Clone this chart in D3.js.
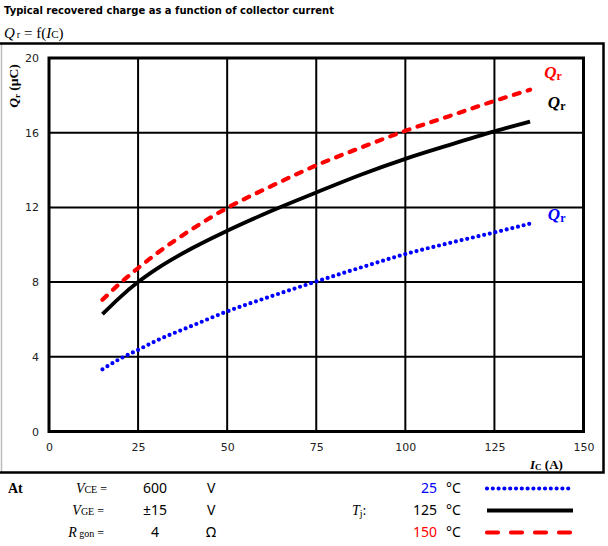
<!DOCTYPE html>
<html>
<head>
<meta charset="utf-8">
<script src="https://cdn.jsdelivr.net/npm/d3@7/dist/d3.min.js"></script>
<style>
  html, body { margin: 0; padding: 0; background: #fff; }
  svg { display: block; }
</style>
</head>
<body>
<svg id="chart" width="608" height="546"></svg>
<script>
// Collector current (A) at which the recovered charge is sampled
const currents = [15, 20, 25, 30, 40, 50, 62.5, 75, 87.5, 100, 112.5, 125, 135];
// Recovered charge Qr (µC) per junction temperature
const qr25 = [3.33, 3.9, 4.37, 4.85, 5.65, 6.43, 7.25, 8.03, 8.78, 9.5, 10.1, 10.66, 11.13];
const qr125 = [6.28, 7.2, 8.0, 8.68, 9.8, 10.75, 11.82, 12.8, 13.75, 14.6, 15.35, 16.07, 16.6];
const qr150 = [7.05, 7.95, 8.75, 9.5, 10.82, 11.97, 13.15, 14.25, 15.2, 16.1, 16.9, 17.7, 18.3];
// Axis ticks
const xTicks = [0, 25, 50, 75, 100, 125, 150];
const yTicks = [0, 4, 8, 12, 16, 20];

const svg = d3.select("#chart");
const sans = "DejaVu Sans, Verdana, sans-serif";
const serif = "Liberation Serif, Times New Roman, serif";

const x = d3.scaleLinear().domain([0, 150]).range([49, 583.5]);
const y = d3.scaleLinear().domain([0, 20]).range([431.5, 58]);

// Heading
svg.append("text").attr("x", 4).attr("y", 14)
  .attr("font-family", sans).attr("font-weight", "bold").attr("font-size", 9.6)
  .attr("textLength", 330).attr("lengthAdjust", "spacingAndGlyphs")
  .text("Typical recovered charge as a function of collector current");

const fn = svg.append("text").attr("x", 4).attr("y", 38)
  .attr("font-family", serif).attr("font-size", 15);
fn.append("tspan").attr("font-style", "italic").text("Q");
fn.append("tspan").attr("font-size", 10).attr("dx", 2).text("r");
fn.append("tspan").text(" = f(");
fn.append("tspan").attr("font-style", "italic").text("I");
fn.append("tspan").attr("font-size", 11).text("C");
fn.append("tspan").text(")");

// Outer frame
svg.append("line").attr("x1", 1.5).attr("x2", 1.5).attr("y1", 44).attr("y2", 472)
  .attr("stroke", "#bbb").attr("stroke-width", 1.5);
svg.append("path").attr("d", "M0,43.5H603.5V472.5H0")
  .attr("fill", "none").attr("stroke", "#000").attr("stroke-width", 2.5);

// Grid
const grid = svg.append("g").attr("stroke", "#000").attr("stroke-width", 2);
grid.selectAll(".gx").data(xTicks.slice(1, -1)).join("line")
  .attr("x1", d => x(d)).attr("x2", d => x(d)).attr("y1", y(20)).attr("y2", y(0));
grid.selectAll(".gy").data(yTicks.slice(1, -1)).join("line")
  .attr("y1", d => y(d)).attr("y2", d => y(d)).attr("x1", x(0)).attr("x2", x(150));
svg.append("rect").attr("x", x(0)).attr("y", y(20))
  .attr("width", x(150) - x(0)).attr("height", y(0) - y(20))
  .attr("fill", "none").attr("stroke", "#000").attr("stroke-width", 3);

// Axes labels via d3 axes (tick lines hidden)
const xAxis = svg.append("g").attr("transform", `translate(0,${y(0) + 8})`)
  .call(d3.axisBottom(x).tickValues(xTicks).tickSize(0).tickPadding(4));
const yAxis = svg.append("g").attr("transform", `translate(${x(0) - 8},0)`)
  .call(d3.axisLeft(y).tickValues(yTicks).tickSize(0).tickPadding(2));
[xAxis, yAxis].forEach(a => {
  a.select(".domain").remove();
  a.selectAll("text").attr("font-family", sans).attr("font-size", 11).attr("fill", "#222");
});

// Y title
const yt = svg.append("text").attr("transform", "translate(18,86) rotate(-90)")
  .attr("text-anchor", "middle").attr("font-family", serif)
  .attr("font-weight", "bold").attr("font-size", 13.5);
yt.append("tspan").attr("font-style", "italic").text("Q");
yt.append("tspan").attr("font-size", 9).attr("dy", 2).text("r");
yt.append("tspan").attr("dy", -2).text(" (µC)");

// X title
const xt = svg.append("text").attr("x", 530).attr("y", 469)
  .attr("font-family", serif).attr("font-weight", "bold").attr("font-size", 13);
xt.append("tspan").attr("font-style", "italic").text("I");
xt.append("tspan").attr("font-size", 9).attr("dy", 1).text("C");
xt.append("tspan").attr("dy", -1).text(" (A)");

// Curves
const line = d3.line().x(d => x(d[0])).y(d => y(d[1])).curve(d3.curveMonotoneX);
const series = [
  { values: qr25, color: "#0000ff", width: 4.2, dash: "0 5.8", legendDash: "0 5.8", cap: "round" },
  { values: qr125, color: "#000000", width: 3.8, dash: null, legendDash: null, cap: "butt" },
  { values: qr150, color: "#ff0000", width: 4.2, dash: "6 8.5", legendDash: "11 13", cap: "round" }
];
series.forEach(s => {
  svg.append("path")
    .datum(currents.map((c, i) => [c, s.values[i]]))
    .attr("d", line).attr("fill", "none")
    .attr("stroke", s.color).attr("stroke-width", s.width)
    .attr("stroke-linecap", s.cap)
    .attr("stroke-dasharray", s.dash);
});

// Curve tags
function qrTag(ic, q, color) {
  const t = svg.append("text").attr("x", x(ic)).attr("y", y(q))
    .attr("font-family", serif).attr("font-weight", "bold").attr("font-style", "italic")
    .attr("font-size", 17).attr("fill", color);
  t.append("tspan").text("Q");
  t.append("tspan").attr("font-style", "normal").attr("font-size", 12).attr("dy", 2).text("r");
}
qrTag(139, 18.95, "#ff0000");
qrTag(140, 17.3, "#000000");
qrTag(140, 11.3, "#0000ff");

// Test conditions
const txt = (xx, yy, s, opts = {}) => svg.append("text").attr("x", xx).attr("y", yy)
  .attr("font-family", opts.family || "Noto Sans, sans-serif")
  .attr("font-size", opts.size || 14)
  .attr("font-weight", opts.weight || "normal")
  .attr("text-anchor", opts.anchor || "start")
  .attr("fill", opts.fill || "#000").text(s);

txt(8, 493, "At", { family: serif, weight: "bold", size: 14 });

function param(xx, yy, main, sub) {
  const t = svg.append("text").attr("x", xx).attr("y", yy).attr("text-anchor", "end")
    .attr("font-family", serif).attr("font-size", 14);
  t.append("tspan").attr("font-style", "italic").text(main);
  t.append("tspan").attr("font-size", 10).text(sub);
  t.append("tspan").attr("font-size", 12).text(" =");
}
param(107, 493, "V", "CE");
param(104, 515, "V", "GE");
param(104, 537, "R", " gon");

txt(155, 493, "600", { anchor: "middle" });
txt(155, 515, "±15", { anchor: "middle" });
txt(155, 537, "4", { anchor: "middle" });
txt(207, 493, "V");
txt(207, 515, "V");
txt(206, 537, "Ω");

const tj = svg.append("text").attr("x", 352).attr("y", 515)
  .attr("font-family", serif).attr("font-size", 14);
tj.append("tspan").attr("font-style", "italic").text("T");
tj.append("tspan").attr("font-size", 10).attr("dy", 2).text("j");
tj.append("tspan").attr("dy", -2).text(":");

const legendRows = [
  { temp: "25", color: "#0000ff", y: 493, s: series[0] },
  { temp: "125", color: "#000000", y: 515, s: series[1] },
  { temp: "150", color: "#ff0000", y: 537, s: series[2] }
];
legendRows.forEach(r => {
  txt(437, r.y, r.temp, { anchor: "end", fill: r.color });
  txt(446, r.y, "°C");
  svg.append("line").attr("x1", 487).attr("x2", 573)
    .attr("y1", r.y - 4.5).attr("y2", r.y - 4.5)
    .attr("stroke", r.color).attr("stroke-width", r.s.width)
    .attr("stroke-linecap", r.s.cap).attr("stroke-dasharray", r.s.legendDash);
});
</script>
</body>
</html>
